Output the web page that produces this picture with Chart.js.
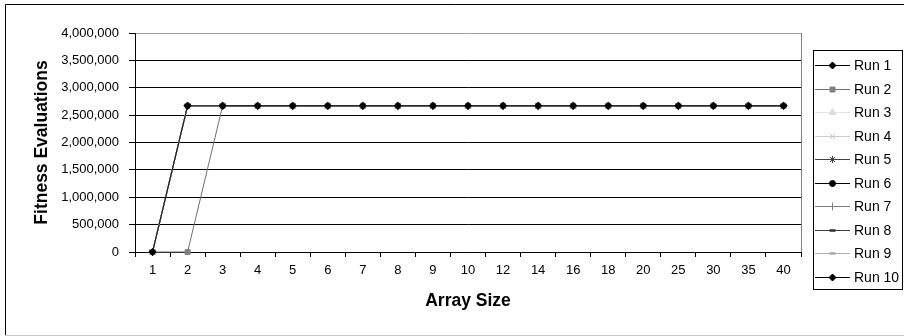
<!DOCTYPE html>
<html>
<head>
<meta charset="utf-8">
<script src="https://cdn.jsdelivr.net/npm/chart.js@4/dist/chart.umd.min.js"></script>
<style>
  html, body { margin: 0; padding: 0; background: #fff; }
  #wrap { width: 904px; height: 336px; position: relative; }
</style>
</head>
<body>
<div id="wrap"><canvas id="c" width="904" height="336"></canvas></div>
<script>
// ---- Data ----
const arraySizes = ['1','2','3','4','5','6','7','8','9','10','12','14','16','18','20','25','30','35','40'];
const run1  = [0, 2670000, 2670000, 2670000, 2670000, 2670000, 2670000, 2670000, 2670000, 2670000, 2670000, 2670000, 2670000, 2670000, 2670000, 2670000, 2670000, 2670000, 2670000];
const run2  = [0, 0, 2670000, 2670000, 2670000, 2670000, 2670000, 2670000, 2670000, 2670000, 2670000, 2670000, 2670000, 2670000, 2670000, 2670000, 2670000, 2670000, 2670000];
const run3  = [0, 2670000, 2670000, 2670000, 2670000, 2670000, 2670000, 2670000, 2670000, 2670000, 2670000, 2670000, 2670000, 2670000, 2670000, 2670000, 2670000, 2670000, 2670000];
const run4  = [0, 2670000, 2670000, 2670000, 2670000, 2670000, 2670000, 2670000, 2670000, 2670000, 2670000, 2670000, 2670000, 2670000, 2670000, 2670000, 2670000, 2670000, 2670000];
const run5  = [0, 2670000, 2670000, 2670000, 2670000, 2670000, 2670000, 2670000, 2670000, 2670000, 2670000, 2670000, 2670000, 2670000, 2670000, 2670000, 2670000, 2670000, 2670000];
const run6  = [0, 2670000, 2670000, 2670000, 2670000, 2670000, 2670000, 2670000, 2670000, 2670000, 2670000, 2670000, 2670000, 2670000, 2670000, 2670000, 2670000, 2670000, 2670000];
const run7  = [0, 2670000, 2670000, 2670000, 2670000, 2670000, 2670000, 2670000, 2670000, 2670000, 2670000, 2670000, 2670000, 2670000, 2670000, 2670000, 2670000, 2670000, 2670000];
const run8  = [0, 2670000, 2670000, 2670000, 2670000, 2670000, 2670000, 2670000, 2670000, 2670000, 2670000, 2670000, 2670000, 2670000, 2670000, 2670000, 2670000, 2670000, 2670000];
const run9  = [0, 2670000, 2670000, 2670000, 2670000, 2670000, 2670000, 2670000, 2670000, 2670000, 2670000, 2670000, 2670000, 2670000, 2670000, 2670000, 2670000, 2670000, 2670000];
const run10 = [0, 2670000, 2670000, 2670000, 2670000, 2670000, 2670000, 2670000, 2670000, 2670000, 2670000, 2670000, 2670000, 2670000, 2670000, 2670000, 2670000, 2670000, 2670000];
const seriesNames = ['Run 1','Run 2','Run 3','Run 4','Run 5','Run 6','Run 7','Run 8','Run 9','Run 10'];
const yTickValues = [0, 500000, 1000000, 1500000, 2000000, 2500000, 3000000, 3500000, 4000000];
const xAxisTitle = 'Array Size';
const yAxisTitle = 'Fitness Evaluations';

// ---- Styles ----
const seriesData = [run1, run2, run3, run4, run5, run6, run7, run8, run9, run10];
const lineColors = ['#000000','#707070','#e4e4e4','#cccccc','#404040','#000000','#808080','#404040','#b0b0b0','#000000'];
const markerColors = ['#000000','#808080','#dcdcdc','#c0c0c0','#404040','#000000','#808080','#303030','#a8a8a8','#000000'];
const markerStyles = ['rectRot','rect','triangle','crossRot','star','circle','cross','line','line','rectRot'];
const markerRadius = [3.5, 3.5, 4, 3.5, 3.5, 3, 4, 3, 3, 3.5];
const markerBorder = [1, 1, 1, 1, 1, 1, 1, 2.5, 2.5, 1];

const datasets = seriesData.map((d, i) => ({
  label: seriesNames[i],
  data: d,
  borderColor: lineColors[i],
  backgroundColor: markerColors[i],
  pointBackgroundColor: markerColors[i],
  pointBorderColor: markerColors[i],
  pointStyle: markerStyles[i],
  pointRadius: markerRadius[i],
  pointBorderWidth: markerBorder[i],
  borderWidth: 1,
  tension: 0,
  clip: false
}));

const frame = {
  id: 'frame',
  beforeDraw(chart) {
    const ctx = chart.ctx;
    ctx.save();
    ctx.fillStyle = '#fff';
    ctx.fillRect(0, 0, chart.width, chart.height);
    ctx.lineWidth = 1;
    ctx.strokeStyle = '#000';
    ctx.beginPath();
    ctx.moveTo(5.5, 335); ctx.lineTo(5.5, 4.5); ctx.lineTo(904, 4.5);
    ctx.stroke();
    ctx.strokeStyle = '#c8c8c8';
    ctx.beginPath();
    ctx.moveTo(5, 335.5); ctx.lineTo(904, 335.5);
    ctx.stroke();
    ctx.restore();
  },
  beforeDatasetsDraw(chart) {
    const ctx = chart.ctx, a = chart.chartArea;
    ctx.save();
    ctx.strokeStyle = '#808080';
    ctx.lineWidth = 1;
    const r = Math.round(a.right) + 0.5;
    ctx.beginPath();
    ctx.moveTo(r, Math.round(a.top)); ctx.lineTo(r, Math.round(a.bottom));
    ctx.stroke();
    ctx.restore();
  },
  afterDraw(chart) {
    const ctx = chart.ctx;
    ctx.save();
    ctx.lineWidth = 1;
    ctx.strokeStyle = '#000';
    ctx.strokeRect(813.5, 50.5, 89, 239);
    ctx.font = '14px "Liberation Sans", Arial, sans-serif';
    ctx.textBaseline = 'middle';
    ctx.textAlign = 'left';
    chart.data.datasets.forEach((ds, i) => {
      const y = Math.round(65 + i * 23.5) + 0.5;
      ctx.strokeStyle = ds.borderColor;
      ctx.lineWidth = 1;
      ctx.beginPath();
      ctx.moveTo(815, y); ctx.lineTo(850, y);
      ctx.stroke();
      ctx.fillStyle = ds.pointBackgroundColor;
      ctx.strokeStyle = ds.pointBorderColor;
      ctx.lineWidth = ds.pointBorderWidth;
      Chart.helpers.drawPoint(ctx, {
        pointStyle: ds.pointStyle, radius: ds.pointRadius, rotation: 0, borderWidth: ds.pointBorderWidth
      }, 832.5, y);
      ctx.fillStyle = '#000';
      ctx.fillText(ds.label, 854, y + 0.5);
    });
    ctx.restore();
  }
};

const chart = new Chart(document.getElementById('c'), {
  type: 'line',
  data: { labels: arraySizes, datasets },
  options: {
    responsive: false,
    animation: false,
    events: [],
    layout: { padding: { top: 33, right: 103, bottom: 24.5, left: 31.5 } },
    plugins: { legend: { display: false }, tooltip: { enabled: false }, title: { display: false } },
    scales: {
      x: {
        type: 'category',
        offset: true,
        grid: { offset: true, drawOnChartArea: false, drawTicks: true, tickLength: 5, color: '#000', lineWidth: 1 },
        border: { display: true, color: '#000', width: 1 },
        ticks: { color: '#000', font: { family: '"Liberation Sans", Arial, sans-serif', size: 13 }, padding: 6, maxRotation: 0, autoSkip: false },
        title: { display: true, text: xAxisTitle, color: '#000', font: { family: '"Liberation Sans", Arial, sans-serif', size: 17.5, weight: 'bold' }, padding: { top: 0, bottom: 0 } },
        afterFit(s) { s.height = 59.5; }
      },
      y: {
        min: 0, max: 4000000,
        afterBuildTicks(s) { s.ticks = yTickValues.map(v => ({ value: v })); },
        grid: {
          drawTicks: true, tickLength: 6, lineWidth: 1,
          color: (c) => (c.tick && c.tick.value === 4000000) ? '#a0a0a0' : '#000',
          tickColor: '#000'
        },
        border: { display: true, color: '#000', width: 1 },
        ticks: {
          color: '#000', padding: 10,
          font: { family: '"Liberation Sans", Arial, sans-serif', size: 13 },
          callback: (v) => Number(v).toLocaleString('en-US')
        },
        title: { display: true, text: yAxisTitle, color: '#000', font: { family: '"Liberation Sans", Arial, sans-serif', size: 17.5, weight: 'bold' }, padding: { top: 0, bottom: 0 } },
        afterFit(s) { s.width = 103.5; }
      }
    }
  },
  plugins: [frame]
});
</script>
</body>
</html>
